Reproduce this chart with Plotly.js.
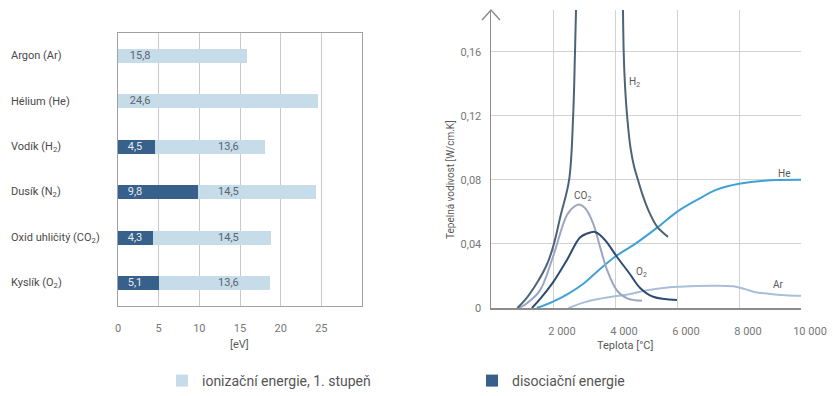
<!DOCTYPE html>
<html>
<head>
<meta charset="utf-8">
<script src="https://cdn.plot.ly/plotly-3.0.1.min.js"></script>
<style>
html,body{margin:0;padding:0;background:#fff;}
#chart{width:833px;height:396px;}
</style>
</head>
<body>
<div id="chart"></div>
<script>
// ---------- Left chart data ----------
const categories = ['Argon (Ar)', 'Hélium (He)', 'Vodík (H<sub>2</sub>)', 'Dusík (N<sub>2</sub>)', 'Oxid uhličitý (CO<sub>2</sub>)', 'Kyslík (O<sub>2</sub>)'];
const dissociation = [null, null, 4.5, 9.8, 4.3, 5.1];
const ionization = [15.8, 24.6, 13.6, 14.5, 14.5, 13.6];
const barTickVals = [0, 5, 10, 15, 20, 25];
const barTickText = ['0', '5', '10', '15', '20', '25'];

// ---------- Right chart data ----------
const h2T = [850, 1100, 1480, 1800, 2000, 2250, 2520, 2650, 2710, 2760, null, 4250, 4280, 4320, 4390, 4500, 4620, 4740, 4900, 5100, 5350, 5550, 5710];
const h2K = [0, 0.005, 0.0156, 0.027, 0.038, 0.058, 0.08, 0.12, 0.16, 0.2, null, 0.2, 0.16, 0.14, 0.12, 0.1, 0.088, 0.08, 0.07, 0.06, 0.051, 0.047, 0.0444];
const co2T = [900, 1160, 1580, 2000, 2450, 2700, 2870, 3050, 3290, 3520, 3740, 4060, 4390, 4870];
const co2K = [0, 0.003, 0.011, 0.032, 0.058, 0.0635, 0.0645, 0.062, 0.053, 0.038, 0.024, 0.011, 0.006, 0.0045];
const o2T = [1320, 1600, 2000, 2450, 2870, 3100, 3350, 3550, 3740, 4060, 4450, 4810, 5230, 6000];
const o2K = [0, 0.006, 0.016, 0.030, 0.044, 0.0465, 0.0475, 0.045, 0.041, 0.032, 0.022, 0.0125, 0.007, 0.005];
const heT = [1480, 2000, 2500, 3000, 3500, 4000, 4650, 5350, 6000, 6650, 7300, 8000, 8800, 10000];
const heK = [0, 0.004, 0.009, 0.0155, 0.024, 0.032, 0.040, 0.050, 0.060, 0.0675, 0.074, 0.0775, 0.0795, 0.080];
const arT = [2500, 3000, 3500, 4000, 4500, 5000, 5550, 6100, 6650, 7300, 7900, 8200, 8500, 9000, 9500, 10000];
const arK = [0, 0.0035, 0.0058, 0.0073, 0.0087, 0.011, 0.0125, 0.0133, 0.0138, 0.0139, 0.0133, 0.0118, 0.0100, 0.0088, 0.0080, 0.0076];
const tempTickVals = [2000, 4000, 6000, 8000, 10000];
const tempTickText = ['2 000', '4 000', '6 000', '8 000', '10 000'];
const condTickVals = [0, 0.04, 0.08, 0.12, 0.16];
const condTickText = ['0', '0,04', '0,08', '0,12', '0,16'];
const curveLabels = [
  {name: 'H<sub>2</sub>', x: 4640, y: 0.141},
  {name: 'He', x: 9450, y: 0.084},
  {name: 'CO<sub>2</sub>', x: 2960, y: 0.0695},
  {name: 'O<sub>2</sub>', x: 4870, y: 0.022},
  {name: 'Ar', x: 9260, y: 0.0146}
];

// ---------- Styling ----------
const FONT = 'Roboto, Arial, sans-serif';
const LIGHT = '#c6dce9';
const DARK = '#37608a';
const W = 833, H = 396;
const px = v => v / W;
const py = v => (H - v) / H;

const fmt = v => v.toFixed(1).replace('.', ',');
const idx = categories.map((c, i) => i);

// label positions (layout constants, in eV units)
const darkLabelX = 1.2;
const lightLabelX = dissociation.map(d => d == null ? 1.45 : 12.3);

const traces = [
  {
    type: 'bar', orientation: 'h', name: 'disociační energie',
    y: idx, x: dissociation, width: 0.3,
    marker: {color: DARK}, xaxis: 'x', yaxis: 'y',
    legendrank: 2, hoverinfo: 'skip'
  },
  {
    type: 'bar', orientation: 'h', name: 'ionizační energie, 1. stupeň',
    y: idx, x: ionization, width: 0.3,
    marker: {color: LIGHT}, xaxis: 'x', yaxis: 'y',
    legendrank: 1, hoverinfo: 'skip'
  },
  {
    type: 'scatter', mode: 'text', showlegend: false, hoverinfo: 'skip',
    x: dissociation.map(d => d == null ? null : darkLabelX),
    y: idx, text: dissociation.map(d => d == null ? '' : fmt(d)),
    textposition: 'middle right',
    textfont: {family: FONT, size: 11, color: '#e4ebf3'},
    xaxis: 'x', yaxis: 'y'
  },
  {
    type: 'scatter', mode: 'text', showlegend: false, hoverinfo: 'skip',
    x: lightLabelX, y: idx, text: ionization.map(fmt),
    textposition: 'middle right',
    textfont: {family: FONT, size: 11, color: '#5a6470'},
    xaxis: 'x', yaxis: 'y'
  },
  {type: 'scatter', mode: 'lines', x: arT, y: arK, line: {color: '#a9bed9', width: 2, shape: 'spline'}, showlegend: false, xaxis: 'x2', yaxis: 'y2', hoverinfo: 'skip'},
  {type: 'scatter', mode: 'lines', x: heT, y: heK, line: {color: '#3ea2d6', width: 2, shape: 'spline'}, showlegend: false, xaxis: 'x2', yaxis: 'y2', hoverinfo: 'skip'},
  {type: 'scatter', mode: 'lines', x: co2T, y: co2K, line: {color: '#9aa6c2', width: 2, shape: 'spline'}, showlegend: false, xaxis: 'x2', yaxis: 'y2', hoverinfo: 'skip'},
  {type: 'scatter', mode: 'lines', x: o2T, y: o2K, line: {color: '#2d4b73', width: 2, shape: 'spline'}, showlegend: false, xaxis: 'x2', yaxis: 'y2', hoverinfo: 'skip'},
  {type: 'scatter', mode: 'lines', x: h2T, y: h2K, connectgaps: false, line: {color: '#4c6478', width: 2, shape: 'spline'}, showlegend: false, xaxis: 'x2', yaxis: 'y2', hoverinfo: 'skip'}
];

const annotations = [];
categories.forEach((c, i) => {
  annotations.push({
    xref: 'paper', yref: 'y', x: px(9), y: i, xanchor: 'left', yanchor: 'middle',
    text: c, showarrow: false, font: {family: FONT, size: 11, color: '#4a4a4a'}
  });
});
curveLabels.forEach(l => {
  annotations.push({
    xref: 'x2', yref: 'y2', x: l.x, y: l.y, text: l.name, showarrow: false,
    font: {family: FONT, size: 10, color: '#5a5a5a'}
  });
});
annotations.push({xref: 'paper', yref: 'paper', x: px(228), y: py(344), yanchor: 'middle', text: '[eV]', showarrow: false,
  font: {family: FONT, size: 11, color: '#5a5a5a'}});
annotations.push({xref: 'paper', yref: 'paper', x: px(655), y: py(345), yanchor: 'middle', text: 'Teplota [°C]', showarrow: false,
  font: {family: FONT, size: 11, color: '#5a5a5a'}});
annotations.push({xref: 'paper', yref: 'paper', x: px(450), y: py(180), xanchor: 'center', yanchor: 'middle', text: 'Tepelná vodivost [W/cm.K]', showarrow: false,
  textangle: -90, font: {family: FONT, size: 10, color: '#5a5a5a'}});

const layout = {
  width: W, height: H,
  margin: {l: 0, r: 0, t: 0, b: 0, autoexpand: false},
  paper_bgcolor: '#ffffff', plot_bgcolor: 'rgba(0,0,0,0)',
  font: {family: FONT, size: 11, color: '#666'},
  barmode: 'stack',
  showlegend: true,
  legend: {
    orientation: 'h', x: px(162), y: py(381), xanchor: 'left', yanchor: 'middle',
    traceorder: 'normal',
    entrywidth: 265, entrywidthmode: 'pixels',
    font: {family: FONT, size: 14, color: '#555'}, bgcolor: 'rgba(0,0,0,0)'
  },
  xaxis: {
    domain: [px(118), px(362)], anchor: 'y', range: [0, 30],
    tickvals: barTickVals, ticktext: barTickText, ticks: '',
    ticklabelstandoff: 12,
    showgrid: true, gridcolor: '#c9c9c9', gridwidth: 1,
    showline: true, mirror: true, linecolor: '#a0a0a0', linewidth: 1,
    zeroline: false, tickfont: {family: FONT, size: 11, color: '#777'}, fixedrange: true
  },
  yaxis: {
    domain: [py(306), py(33)], anchor: 'x', range: [5.5, -0.5],
    showticklabels: false, ticks: '', showgrid: false, zeroline: false,
    showline: true, mirror: true, linecolor: '#a0a0a0', linewidth: 1, fixedrange: true
  },
  xaxis2: {
    domain: [px(491), px(801)], anchor: 'y2', range: [0, 10000],
    tickvals: tempTickVals, ticktext: tempTickText, ticks: '',
    ticklabelshift: 9, ticklabelstandoff: 12,
    showgrid: true, gridcolor: '#d2d2d2', gridwidth: 1,
    showline: true, linecolor: '#8c8c8c', linewidth: 1.5,
    zeroline: false, tickfont: {family: FONT, size: 11, color: '#777'}, fixedrange: true
  },
  yaxis2: {
    domain: [py(308), py(10)], anchor: 'x2', range: [0, 0.186],
    tickvals: condTickVals, ticktext: condTickText, ticks: '',
    ticklabelstandoff: 6,
    showgrid: true, gridcolor: '#d2d2d2', gridwidth: 1,
    showline: true, linecolor: '#8c8c8c', linewidth: 1.5,
    zeroline: false, tickfont: {family: FONT, size: 11, color: '#777'}, fixedrange: true
  },
  shapes: [
    {type: 'path', xref: 'paper', yref: 'paper',
     path: 'M ' + px(482) + ',' + py(20) + ' L ' + px(491) + ',' + py(10) + ' L ' + px(500) + ',' + py(20),
     line: {color: '#8c8c8c', width: 1.5}}
  ],
  annotations: annotations
};

Plotly.newPlot('chart', traces, layout, {displayModeBar: false, staticPlot: true});
</script>
</body>
</html>
